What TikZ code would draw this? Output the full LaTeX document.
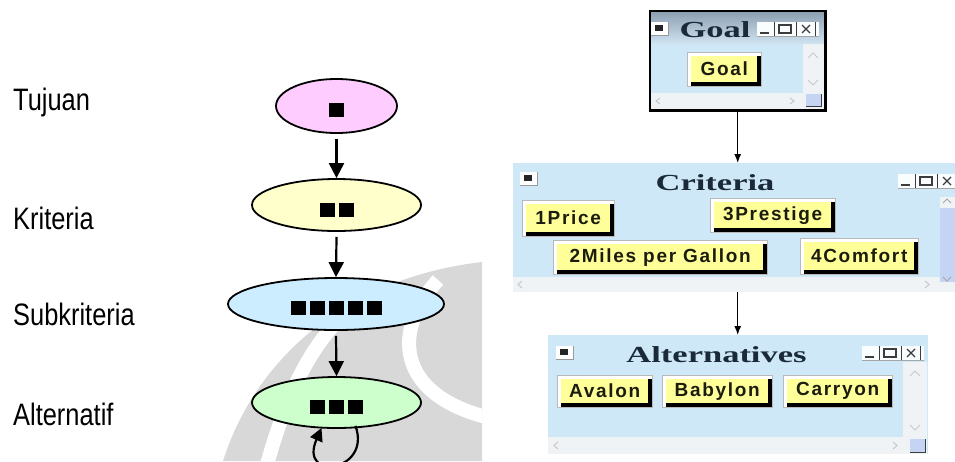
\documentclass[tikz,border=0pt]{standalone}
\usepackage{fontspec}
\setmainfont{Liberation Sans}
\usetikzlibrary{shapes.geometric,arrows.meta}
\newfontfamily\lblfont[FakeStretch=0.82]{Liberation Sans}
\newfontfamily\btnfont[LetterSpace=9]{Liberation Sans}
\newfontfamily\ttlfont[FakeStretch=1.5]{Liberation Serif}
\definecolor{pinkE}{RGB}{255,204,255}
\definecolor{yellE}{RGB}{255,255,204}
\definecolor{blueE}{RGB}{204,236,255}
\definecolor{greenE}{RGB}{204,255,204}
\definecolor{wmark}{RGB}{216,216,216}
\definecolor{winbg}{RGB}{206,232,248}
\definecolor{barTop}{RGB}{140,160,178}
\definecolor{barBot}{RGB}{208,228,242}
\definecolor{stripc}{RGB}{240,243,246}
\definecolor{thumbc}{RGB}{196,212,242}
\definecolor{btnY}{RGB}{255,255,153}
\definecolor{btnTxt}{RGB}{28,28,14}
\definecolor{ttlTxt}{RGB}{26,42,56}
\definecolor{ctlc}{RGB}{60,60,60}
\definecolor{bevel}{RGB}{185,185,185}
\definecolor{faint}{RGB}{200,200,200}
\newcommand\sq{\rule{15pt}{14pt}}
\newcommand\sqgap{\hspace{4pt}}
\newcommand\fs[1]{\fontsize{#1}{#1}\selectfont}
% window button: name, x1, y1, x2, y2, text
\newcommand\wbtn[6]{%
  \fill[bevel] (#2,#3) rectangle (#4,#5);
  \fill[white] ({#2+1},{#3+1}) rectangle ({#4-1},{#5-1});
  \fill[black] ({#2+4},{#3+4}) rectangle ({#4-1},{#5-1});
  \node[btn, minimum width={#4-#2-9}, minimum height={#5-#3-9}, anchor=north west] (#1) at ({#2+4},{#3+4}) {#6};
}
% title-bar controls: left x, top y
\newcommand\winctl[2]{%
  \begin{scope}[shift={(#1,#2)}]
    \fill[white!90!winbg] (0,0) rectangle (62,14);
    \draw[ctlc, line width=1.6pt] (3,11) -- (12,11);
    \draw[ctlc, line width=0.9pt] (17,0) -- (17,14);
    \draw[ctlc, line width=1.1pt] (22,3) rectangle (34,11);
    \draw[ctlc, line width=0.9pt] (39,0) -- (39,14);
    \draw[ctlc, line width=1.1pt] (45,3) -- (53,11) (45,11) -- (53,3);
    \draw[ctlc, line width=0.9pt] (58,0) -- (58,14);
    \draw[gray!70, line width=1pt] (0,14.5) -- (62,14.5);
  \end{scope}}
% title-bar icon: left x, top y
\newcommand\winicon[2]{%
  \begin{scope}[shift={(#1,#2)}]
    \fill[white] (0,0) rectangle (17,13);
    \fill[black!85] (4,3) rectangle (12,9);
    \draw[gray!80, line width=1pt] (0,13.5) -- (17.5,13.5) -- (17.5,0);
  \end{scope}}
\tikzset{
  lbl/.style={font=\lblfont\fs{31}, inner sep=0},
  ell/.style={ellipse, draw=black, line width=1.8pt, inner sep=0},
  sqn/.style={inner sep=0},
  larr/.style={line width=2.2pt, -{Triangle[length=15pt,width=15pt]}},
  rarr/.style={line width=1.3pt, -{Latex[length=9pt,width=7pt]}},
  btn/.style={fill=btnY, inner sep=0, font=\btnfont\bfseries\fs{19}, text=btnTxt},
  ttl/.style={font=\ttlfont\bfseries\fs{23}, text=ttlTxt, inner sep=0, anchor=base},
  win/.style={fill=winbg, inner sep=0, anchor=north west},
}
\begin{document}
\begin{tikzpicture}[x=1pt,y=-1pt]
\useasboundingbox (0,0) rectangle (955,461);
\clip (0,0) rectangle (955,461);
\fill[white] (0,0) rectangle (955,461);
% watermark
\begin{scope}
  \clip (0,0) rectangle (482,461);
  \fill[wmark] (223,461) .. controls (255,360) and (345,278) .. (482,262) -- (482,461) -- cycle;
  \draw[white, line width=14pt] (266,468) .. controls (285,400) and (305,355) .. (340,318);
  \draw[white, line width=14pt] (438,280) .. controls (392,330) and (395,395) .. (490,418);
\end{scope}
% left labels
\node[lbl, anchor=base west] (lTujuan) at (13,110) {Tujuan};
\node[lbl, anchor=base west] (lKrit) at (13,229) {Kriteria};
\node[lbl, anchor=base west] (lSub) at (13,325) {Subkriteria};
\node[lbl, anchor=base west] (lAlt) at (13,425) {Alternatif};
% ellipses
\node[ell, fill=pinkE, minimum width=121pt, minimum height=54pt] (eT) at (336.5,106) {};
\node[ell, fill=yellE, minimum width=169pt, minimum height=52pt] (eK) at (336.5,205) {};
\node[ell, fill=blueE, minimum width=216pt, minimum height=52pt] (eS) at (336,304) {};
\node[ell, fill=greenE, minimum width=169pt, minimum height=51pt] (eA) at (336.5,402.5) {};
\node[sqn] (sT) at (336.5,110) {\sq};
\node[sqn] (sK) at (336.5,209.5) {\sq\sqgap\sq};
\node[sqn] (sS) at (336.5,308) {\sq\sqgap\sq\sqgap\sq\sqgap\sq\sqgap\sq};
\node[sqn] (sA) at (336.5,406.5) {\sq\sqgap\sq\sqgap\sq};
\draw[larr] ([yshift=-5pt]eT.south) -- (eK.north);
\draw[larr] ([yshift=-5pt]eK.south) -- (eS.north);
\draw[larr] ([yshift=-5pt]eS.south) -- (eA.north);
\draw[line width=2.2pt, -{Triangle[length=13pt,width=13pt]}] ([xshift=19pt,yshift=3pt]eA.south) .. controls (372,472) and (298,482) .. ([xshift=-15pt,yshift=1pt]eA.south);
% ---------- Goal window
\node[win, minimum width=175pt, minimum height=99pt] (gw) at (650,11) {};
\shade[top color=barTop, bottom color=barBot] (651,12) rectangle (824,44);
\fill[stripc] (803,44) rectangle (824,109);
\fill[stripc] (651,93) rectangle (803,109);
\draw[faint, line width=1pt] (808,58) -- (813,53) -- (818,58) (808,80) -- (813,85) -- (818,80)
  (660,98) -- (656,101) -- (660,104) (790,98) -- (794,101) -- (790,104);
\fill[thumbc] (806,94) rectangle (821,106);
\draw[ctlc, line width=1pt] (806,106) -- (821,106) -- (821,94);
\winicon{651}{22}
\winctl{757}{22}
\node[ttl] (gt) at (715,37) {Goal};
\wbtn{bGoal}{687}{52}{762}{87}{Goal}
\draw[black, line width=2.2pt] (gw.north west) rectangle (gw.south east);
% ---------- Criteria window
\node[win, minimum width=442pt, minimum height=129pt] (cw) at (513,163) {};
\fill[stripc] (513,277) rectangle (940,292);
\fill[stripc] (940,197) rectangle (955,292);
\fill[thumbc] (940,208) rectangle (955,282);
\draw[gray!70, line width=1pt] (943,203) -- (947,199) -- (951,203) (943,277) -- (947,281) -- (951,277);
\draw[faint, line width=1pt] (522,281) -- (518,284.5) -- (522,288) (925,281) -- (929,284.5) -- (925,288);
\winicon{520}{172}
\winctl{898}{174}
\node[ttl] (ct) at (715,190) {Criteria};
\wbtn{bPrice}{522}{200}{615}{237}{1Price}
\wbtn{bPrestige}{710}{198}{836}{233}{3Prestige}
\wbtn{bMiles}{553}{240}{768}{275}{2Miles per Gallon}
\wbtn{bComfort}{800}{238}{919}{275}{4Comfort}
% ---------- Alternatives window
\node[win, minimum width=380pt, minimum height=119pt] (aw) at (548,335) {};
\fill[stripc] (548,437) rectangle (903,454);
\fill[stripc] (903,362) rectangle (927,454);
\draw[faint, line width=1pt] (910,376) -- (915,371) -- (920,376) (910,425) -- (915,430) -- (920,425)
  (558,442) -- (554,445.5) -- (558,449) (893,442) -- (897,445.5) -- (893,449);
\fill[thumbc] (910,439) rectangle (925,452);
\draw[ctlc, line width=1pt] (910,452) -- (925,452) -- (925,439);
\winicon{556}{346}
\winctl{862}{346}
\node[ttl] (at) at (716.5,362) {Alternatives};
\wbtn{bAvalon}{557}{375}{653}{408}{Avalon}
\wbtn{bBabylon}{662}{375}{773}{408}{Babylon}
\wbtn{bCarryon}{783}{375}{893}{408}{Carryon}
% connectors between windows
\draw[rarr] (gw.south) -- (gw.south |- cw.north);
\draw[rarr] (cw.south -| gw.south) -- (aw.north -| gw.south);
\end{tikzpicture}
\end{document}
